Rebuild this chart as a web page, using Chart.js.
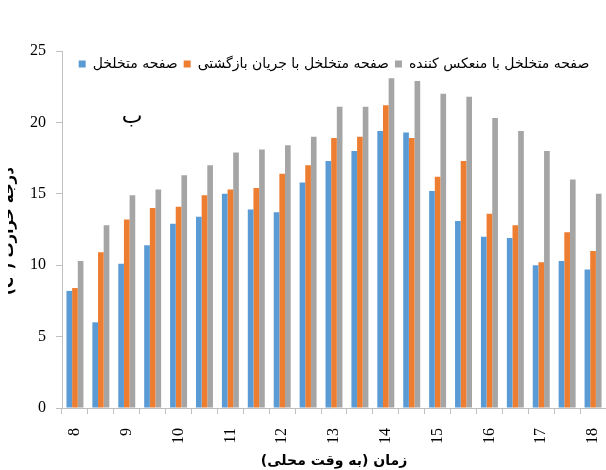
<!DOCTYPE html>
<html>
<head>
<meta charset="utf-8">
<script src="https://cdn.jsdelivr.net/npm/chart.js@4.4.1/dist/chart.umd.min.js"></script>
<style>
  html, body { margin: 0; padding: 0; background: #fff; }
  canvas { display: block; }
</style>
</head>
<body>
<canvas id="chart" width="606" height="470"></canvas>
<script>
// local time, every half hour
const timeLabels = [8, 8.5, 9, 9.5, 10, 10.5, 11, 11.5, 12, 12.5, 13, 13.5, 14, 14.5, 15, 15.5, 16, 16.5, 17, 17.5, 18];

const seriesNames = [
  "صفحه متخلخل",
  "صفحه متخلخل با جریان بازگشتی",
  "صفحه متخلخل با منعکس کننده"
];

const porousPlate = [8.2, 6.0, 10.1, 11.4, 12.9, 13.4, 15.0, 13.9, 13.7, 15.8, 17.3, 18.0, 19.4, 19.3, 15.2, 13.1, 12.0, 11.9, 10.0, 10.3, 9.7];
const withReturnFlow = [8.4, 10.9, 13.2, 14.0, 14.1, 14.9, 15.3, 15.4, 16.4, 17.0, 18.9, 19.0, 21.2, 18.9, 16.2, 17.3, 13.6, 12.8, 10.2, 12.3, 11.0];
const withReflector = [10.3, 12.8, 14.9, 15.3, 16.3, 17.0, 17.9, 18.1, 18.4, 19.0, 21.1, 21.1, 23.1, 22.9, 22.0, 21.8, 20.3, 19.4, 18.0, 16.0, 15.0];

const xTitle = "زمان (به وقت محلی)";
const yTitle = "درجه حرارت (°C)";
const panelLabel = "ب";

const colors = ["#5B9BD5", "#ED7D31", "#A5A5A5"];
const axisGrey = "#bfbfbf";
const serif = "'Liberation Serif', 'Times New Roman', serif";
const sans = "'DejaVu Sans', sans-serif";

// legend sits inside the plot area, laid out in one row across its top
const rowLegend = {
  id: "rowLegend",
  beforeLayout(chart) {
    if (chart.legend) chart.legend.isHorizontal = () => true;
  },
  afterLayout(chart) {
    const L = chart.legend, a = chart.chartArea;
    if (!L) return;
    L.maxWidth = a.right - a.left;
    L.maxHeight = a.bottom - a.top;
    L.left = a.left;
    L.right = a.right;
    L.top = a.top;
    L.fit();
    L.bottom = L.top + L.height;
  }
};

// panel letter + the (cropped) y-axis title
const extraText = {
  id: "extraText",
  afterDraw(chart) {
    const ctx = chart.ctx;
    ctx.save();
    ctx.fillStyle = "#000";
    ctx.direction = "rtl";
    ctx.font = "22px " + sans;
    ctx.textAlign = "center";
    ctx.textBaseline = "middle";
    ctx.fillText(panelLabel, 132, 117);

    ctx.beginPath();
    ctx.rect(8, 0, 30, 470);
    ctx.clip();
    ctx.translate(13, 231);
    ctx.rotate(-Math.PI / 2);
    ctx.font = "bold 15px " + sans;
    ctx.textBaseline = "alphabetic";
    ctx.fillText(yTitle, 0, 0);
    ctx.restore();
  }
};

function draw() {
  const ctx = document.getElementById("chart").getContext("2d");
  const seriesData = [porousPlate, withReturnFlow, withReflector];

  new Chart(ctx, {
    type: "bar",
    data: {
      labels: timeLabels,
      datasets: seriesData.map((d, i) => ({
        label: seriesNames[i],
        data: d,
        backgroundColor: colors[i],
        borderWidth: 0,
        categoryPercentage: 0.655,
        barPercentage: 1.0
      }))
    },
    options: {
      responsive: false,
      animation: false,
      layout: { padding: { top: 51, left: 0, right: 0, bottom: 0 } },
      plugins: {
        tooltip: { enabled: false },
        legend: {
          position: "chartArea",
          fullSize: false,
          align: "center",
          textDirection: "rtl",
          labels: {
            boxWidth: 7,
            boxHeight: 7,
            padding: 6,
            color: "#000",
            font: { family: sans, size: 14 }
          }
        }
      },
      scales: {
        x: {
          offset: true,
          grid: {
            offset: true,
            drawOnChartArea: false,
            tickLength: 6,
            color: axisGrey
          },
          border: { color: axisGrey },
          ticks: {
            autoSkip: false,
            minRotation: 90,
            maxRotation: 90,
            padding: 14,
            color: "#000",
            font: { family: serif, size: 16 },
            callback(v, i) {
              const t = timeLabels[i];
              return Number.isInteger(t) ? String(t) : "";
            }
          },
          title: {
            display: true,
            text: xTitle,
            color: "#000",
            font: { family: sans, size: 14, weight: "bold" },
            padding: { top: 4, bottom: 0 }
          },
          afterFit(s) {
            s.height = 62;
            s.paddingLeft = 0;
            s.paddingRight = 0;
          }
        },
        y: {
          min: 0,
          max: 25,
          grid: {
            drawOnChartArea: false,
            tickLength: 6,
            color: axisGrey
          },
          border: { color: axisGrey },
          ticks: {
            stepSize: 5,
            padding: 10,
            color: "#000",
            font: { family: serif, size: 16 }
          },
          afterFit(s) { s.width = 62; }
        }
      }
    },
    plugins: [rowLegend, extraText]
  });
}
draw();
</script>
</body>
</html>
